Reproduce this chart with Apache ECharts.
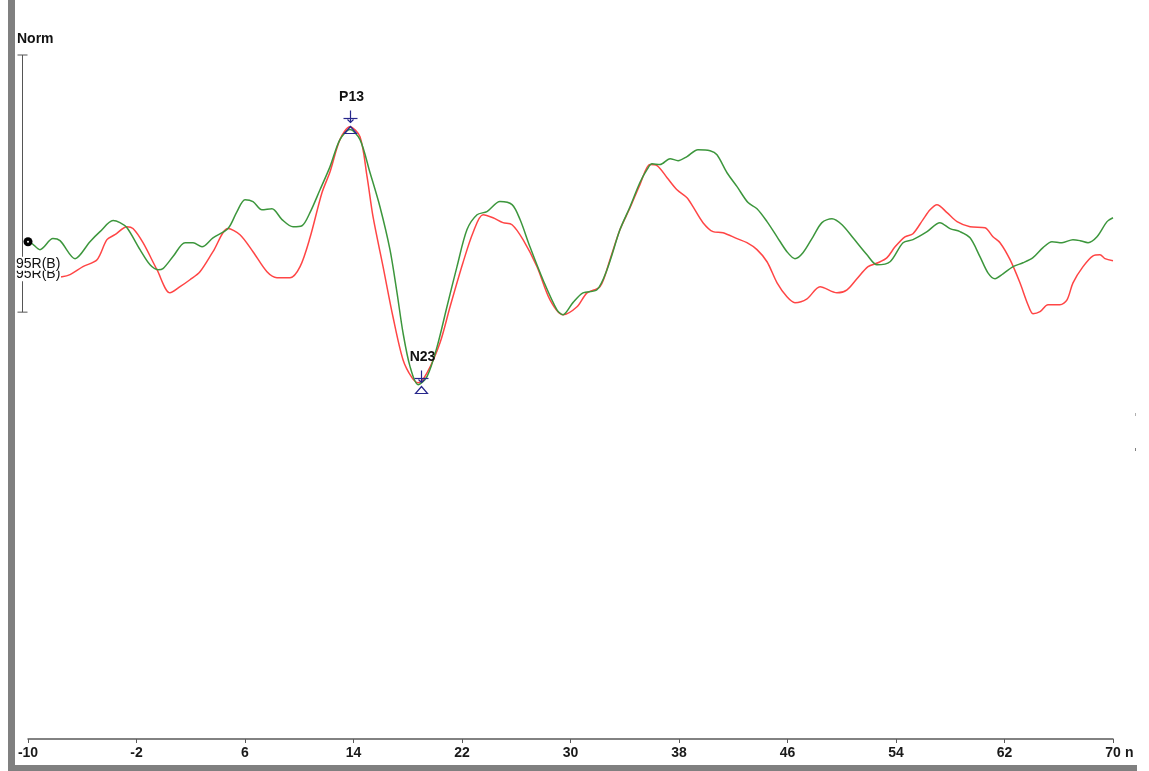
<!DOCTYPE html>
<html>
<head>
<meta charset="utf-8">
<script src="https://cdn.jsdelivr.net/npm/echarts@6/dist/echarts.min.js"></script>
<style>
  html, body { margin: 0; padding: 0; background: #fff; }
  #chart { width: 1149px; height: 771px; }
</style>
</head>
<body>
<div id="chart"></div>
<script>
// Latency axis (ms)
const X_MIN = -10, X_MAX = 70, X_STEP = 8;
// Amplitude range (calibration units)
const Y_MIN = -18.6, Y_MAX = 8;

// Green trace: latency (ms) and amplitude
const greenTime = [-10.00,-9.85,-9.12,-8.16,-7.64,-6.53,-5.43,-4.69,-3.73,-3.22,-2.70,-1.74,-1.00,-0.41,-0.05,0.69,1.58,2.17,2.83,3.64,4.75,5.41,6.00,6.59,7.25,7.99,8.73,9.54,10.20,10.79,11.53,12.27,13.00,13.74,14.48,15.22,15.95,16.69,17.21,17.65,18.17,18.76,19.42,20.16,20.89,21.63,22.37,23.11,23.84,24.80,25.69,26.28,27.01,27.97,29.00,29.45,30.18,30.92,31.95,32.69,33.65,34.39,35.12,35.64,36.01,36.60,37.34,37.93,38.59,39.40,40.29,40.80,41.54,42.28,43.09,43.75,44.49,45.23,45.96,46.55,47.14,47.88,48.54,49.28,50.02,50.83,51.86,52.60,53.56,54.52,55.25,56.29,57.24,57.98,58.72,59.46,60.19,60.78,61.30,61.89,62.63,63.36,64.10,64.84,65.50,66.24,67.05,67.57,68.16,68.82,69.56,70.00];
const greenAmp = [0.70,0.70,0.43,0.86,0.78,0.08,0.74,1.13,1.56,1.48,1.28,0.43,-0.16,-0.35,-0.31,0.16,0.70,0.70,0.54,0.89,1.25,1.91,2.37,2.30,1.98,2.02,1.60,1.32,1.36,1.87,2.76,3.66,4.71,5.10,4.71,3.42,2.10,0.43,-1.25,-2.80,-4.12,-4.82,-4.51,-3.35,-1.79,-0.23,1.21,1.79,1.91,2.30,2.18,1.60,0.54,-0.74,-1.91,-2.10,-1.63,-1.25,-1.13,-0.35,1.21,2.10,3.04,3.54,3.77,3.74,3.97,3.89,4.05,4.32,4.28,4.12,3.42,2.88,2.26,2.02,1.52,0.93,0.35,0.08,0.31,0.93,1.48,1.63,1.40,0.89,0.23,-0.16,-0.04,0.70,0.82,1.13,1.48,1.25,1.13,0.89,0.16,-0.47,-0.70,-0.51,-0.23,-0.08,0.12,0.51,0.74,0.70,0.82,0.78,0.70,0.93,1.52,1.67];

// Red trace: latency (ms) and amplitude
const redTime = [-10.00,-8.75,-7.49,-6.90,-5.95,-4.91,-4.18,-3.59,-2.70,-2.26,-1.52,-0.49,0.47,1.21,1.94,2.68,3.64,4.75,5.63,6.59,7.62,8.36,9.32,10.06,10.79,11.68,12.27,13.00,13.74,14.48,15.00,15.44,16.18,16.91,17.65,18.31,18.76,19.42,20.38,21.12,22.07,22.81,23.55,24.29,25.02,25.69,26.50,27.53,28.49,29.45,30.48,31.22,32.18,32.91,33.65,34.39,35.12,35.86,36.38,37.12,37.85,38.59,39.03,39.77,40.51,41.24,42.28,43.01,43.75,44.49,45.23,45.96,46.55,47.44,48.40,49.65,50.39,51.12,51.94,52.67,53.34,53.93,54.66,55.25,55.99,56.51,57.02,57.76,58.50,59.46,60.56,61.15,61.67,62.41,63.14,63.73,64.10,64.62,65.21,66.09,66.61,67.05,67.79,68.53,69.04,69.41,70.00];
const redAmp = [-0.70,-0.66,-0.62,-0.54,-0.23,0.04,0.82,1.01,1.32,1.25,0.70,-0.35,-1.25,-1.01,-0.74,-0.43,0.35,1.25,1.01,0.35,-0.43,-0.66,-0.66,-0.23,0.89,2.65,3.46,4.71,5.21,4.82,3.27,1.71,-0.23,-2.18,-3.85,-4.55,-4.75,-4.36,-3.19,-1.79,-0.08,1.09,1.79,1.67,1.48,1.40,0.82,-0.23,-1.52,-2.10,-1.79,-1.25,-1.01,0.04,1.21,2.06,2.96,3.74,3.70,3.23,2.76,2.45,2.10,1.48,1.13,1.09,0.86,0.70,0.43,-0.04,-0.86,-1.40,-1.63,-1.48,-1.01,-1.25,-1.13,-0.70,-0.23,-0.08,0.12,0.54,0.93,1.05,1.60,1.98,2.18,1.87,1.52,1.32,1.28,0.93,0.70,0.04,-0.86,-1.71,-2.06,-1.98,-1.71,-1.71,-1.52,-0.86,-0.23,0.19,0.23,0.08,0.00];

// Trace labels (green, red)
const traceNames = ['95R(B)', '95R(B)'];

// Marked peaks
const peakNames = ['P13', 'N23'];
const peakLatency = [13.74, 18.98];
const peakAmp = [5.10, -5.02];

// Calibration bar extent (amplitude units)
const scaleBar = [8, -2];

const GREEN = '#3c963c';
const RED = '#ff4545';
const NAVY = '#27278c';
const FONT = '"Liberation Sans", Arial, sans-serif';

function zip(t, v) {
  const n = Math.min(t.length, v.length);
  const out = [];
  for (let i = 0; i < n; i++) out.push([t[i], v[i]]);
  return out;
}

const chart = echarts.init(document.getElementById('chart'), null, { renderer: 'canvas' });

const option = {
  animation: false,
  backgroundColor: '#ffffff',
  grid: { left: 28, right: 36, top: 55, bottom: 32, containLabel: false, outerBoundsMode: 'none' },
  xAxis: {
    type: 'value',
    min: X_MIN, max: X_MAX, interval: X_STEP,
    axisLine: { show: true, onZero: false, lineStyle: { color: '#5a5a5a', width: 1.5 } },
    axisTick: { show: true, length: 4, lineStyle: { color: '#5a5a5a', width: 1 } },
    splitLine: { show: false },
    axisLabel: {
      margin: 7, color: '#1a1a1a', fontWeight: 'bold', fontSize: 14, fontFamily: FONT,
      showMinLabel: true, showMaxLabel: true
    }
  },
  yAxis: { type: 'value', min: Y_MIN, max: Y_MAX, show: false },
  series: [
    {
      name: 'red', type: 'line', z: 2,
      data: zip(redTime, redAmp),
      showSymbol: false, smooth: 0.3,
      lineStyle: { color: RED, width: 1.5 }
    },
    {
      name: 'green', type: 'line', z: 3,
      data: zip(greenTime, greenAmp),
      showSymbol: false, smooth: 0.3,
      lineStyle: { color: GREEN, width: 1.5 }
    },
    {
      // calibration bar left of the traces
      type: 'custom', z: 1, clip: false, silent: true,
      data: [[X_MIN, scaleBar[0], scaleBar[1]]],
      renderItem: function (params, api) {
        const top = api.coord([api.value(0), api.value(1)]);
        const bot = api.coord([api.value(0), api.value(2)]);
        const x = Math.round(top[0] - 6) + 0.5;
        const st = { stroke: '#555555', lineWidth: 1 };
        return {
          type: 'group',
          children: [
            { type: 'line', shape: { x1: x, y1: top[1], x2: x, y2: bot[1] }, style: st },
            { type: 'line', shape: { x1: x - 5, y1: top[1], x2: x + 5, y2: top[1] }, style: st },
            { type: 'line', shape: { x1: x - 5, y1: bot[1], x2: x + 5, y2: bot[1] }, style: st }
          ]
        };
      }
    },
    {
      // peak markers: name, arrow and triangle
      type: 'custom', z: 6, clip: false, silent: true,
      data: zip(peakLatency, peakAmp),
      renderItem: function (params, api) {
        const p = api.coord([api.value(0), api.value(1)]);
        const x = Math.round(p[0]) + 0.5, y = Math.round(p[1]) + 0.5;
        const st = { stroke: NAVY, lineWidth: 1.2, fill: null };
        return {
          type: 'group',
          children: [
            { type: 'text', x: x + 1, y: y - 33,
              style: { text: peakNames[params.dataIndex], font: 'bold 14px ' + FONT, fill: '#111111', align: 'center', verticalAlign: 'middle' } },
            { type: 'line', shape: { x1: x, y1: y - 20, x2: x, y2: y - 8 }, style: st },
            { type: 'line', shape: { x1: x - 7, y1: y - 12, x2: x + 7, y2: y - 12 }, style: st },
            { type: 'polyline', shape: { points: [[x - 3, y - 11], [x, y - 8], [x + 3, y - 11]] }, style: st },
            { type: 'polygon', shape: { points: [[x, y - 4], [x - 6, y + 3], [x + 6, y + 3]] }, style: { stroke: NAVY, lineWidth: 1.2, fill: 'rgba(0,0,0,0)' } }
          ]
        };
      }
    },
    {
      // red trace label
      type: 'custom', z: 7, clip: false, silent: true,
      data: [[redTime[0], redAmp[0]]],
      renderItem: function (params, api) {
        const p = api.coord([api.value(0), api.value(1)]);
        const cy = p[1] - 4.5;
        return {
          type: 'group',
          children: [
            { type: 'rect', shape: { x: p[0] - 13, y: cy - 7, width: 46, height: 14 }, style: { fill: '#ffffff' } },
            { type: 'text', x: p[0] - 12, y: cy,
              style: { text: traceNames[1], font: '14px ' + FONT, fill: '#111111', align: 'left', verticalAlign: 'middle' } }
          ]
        };
      }
    },
    {
      // green trace label and start dot
      type: 'custom', z: 8, clip: false, silent: true,
      data: [[greenTime[0], greenAmp[0]]],
      renderItem: function (params, api) {
        const p = api.coord([api.value(0), api.value(1)]);
        const cy = p[1] + 21;
        return {
          type: 'group',
          children: [
            { type: 'rect', shape: { x: p[0] - 13, y: cy - 7, width: 46, height: 14 }, style: { fill: '#ffffff' } },
            { type: 'text', x: p[0] - 12, y: cy,
              style: { text: traceNames[0], font: '14px ' + FONT, fill: '#111111', align: 'left', verticalAlign: 'middle' } },
            { type: 'circle', shape: { cx: p[0], cy: p[1] - 1, r: 4.5 }, style: { fill: '#000000' } },
            { type: 'circle', shape: { cx: p[0], cy: p[1] - 1, r: 1 }, style: { fill: '#ffffff' } }
          ]
        };
      }
    }
  ],
  graphic: [
    // window frame
    { type: 'rect', left: 8, top: 0, shape: { width: 7, height: 771 }, style: { fill: '#808080' }, z: 10 },
    { type: 'rect', left: 8, top: 765, shape: { width: 1129, height: 6 }, style: { fill: '#808080' }, z: 10 },
    { type: 'rect', left: 1135, top: 413, shape: { width: 1, height: 3 }, style: { fill: '#b0b0b0' } },
    { type: 'rect', left: 1135, top: 448, shape: { width: 1, height: 3 }, style: { fill: '#808080' } },
    // titles
    { type: 'text', left: 17, top: 32, style: { text: 'Norm', font: 'bold 14px ' + FONT, fill: '#111111' } },
    { type: 'text', left: 1125, top: 746, style: { text: 'n', font: 'bold 14px ' + FONT, fill: '#1a1a1a' } }
  ]
};

chart.setOption(option);
</script>
</body>
</html>
